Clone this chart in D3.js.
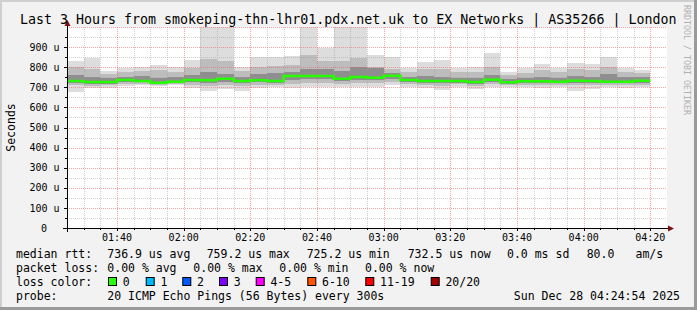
<!DOCTYPE html>
<html>
<head>
<meta charset="utf-8">
<script src="https://cdn.jsdelivr.net/npm/d3@7"></script>
<style>
  html, body { margin: 0; padding: 0; background: #f2f2f2; }
  svg { display: block; font-family: "DejaVu Sans Mono", monospace; }
  text { white-space: pre; }
</style>
</head>
<body>
<svg id="chart" width="697" height="310"></svg>
<script>
// ── Data (microseconds, one 5-minute step each, 01:25 → 04:20) ───────────────
const START = new Date("2025-12-28T01:25:00Z");
const END   = new Date("2025-12-28T04:25:00Z");

const medianUs  = [731,726,726,736,731,723,728,736,735,743,731,735,731,756,756,756,743,751,
                   748,758,736,731,731,731,726,738,725,730,730,728,733,731,728,728,733];
const maxUs     = [832,847,783,797,802,811,802,836,1200,1200,802,852,852,856,1200,895,1200,1200,
                   861,849,797,824,836,797,802,872,778,797,816,797,822,814,853,797,786];
const upperMid  = [800,790,765,775,780,785,778,795,840,830,780,800,805,810,860,830,830,845,
                   800,790,775,790,790,775,775,800,760,770,785,775,790,785,800,778,770];
const upperCore = [760,752,745,752,755,748,750,760,775,768,752,765,770,775,790,790,780,800,
                   795,770,750,755,752,748,745,760,742,748,752,748,755,752,765,752,750];
const lowerCore = [722,718,718,726,724,716,720,726,722,728,720,724,722,735,740,740,730,738,
                   738,742,726,722,720,722,716,728,716,720,720,720,722,720,720,720,722];
const lowerMid  = [712,708,710,716,716,710,714,712,705,712,708,712,712,718,722,722,716,720,
                   722,728,716,712,708,714,706,716,710,712,710,712,710,710,710,712,712];
const minUs     = [678,695,695,706,710,706,710,698,683,690,683,695,703,695,703,700,703,700,
                   700,710,703,695,687,703,690,700,700,703,695,700,683,690,700,695,700];

const lossLabels = ["0", "1", "2", "3", "4-5", "6-10", "11-19", "20/20"];
const lossColors = ["#26ff00", "#00b8ff", "#0059ff", "#7e00ff", "#ff00ff", "#ff5500", "#ff0000", "#a10000"];
const lossBoxX   = [108, 145.7, 182.3, 219, 255.7, 307.3, 365.3, 430.7];

const yLabels = [0, 100, 200, 300, 400, 500, 600, 700, 800, 900];

// ── Layout ───────────────────────────────────────────────────────────────────
const W = 697, H = 310;
const PL = 67, PR = 667, PT = 27, PB = 228;
const ARROW = "#7a1010";

const svg = d3.select("#chart");

const x = d3.scaleUtc().domain([START, END]).range([PL, PR]);
const y = d3.scaleLinear().domain([0, 1000]).range([PB, PT]);
const steps = d3.utcMinute.every(5).range(START, END).slice(0, medianUs.length);
const stepEnd = t => d3.utcMinute.offset(t, 5);

// frame
svg.append("rect").attr("width", W).attr("height", H).attr("fill", "#f2f2f2");
svg.append("path").attr("d", `M1,${H} V1 H${W}`).attr("fill", "none")
  .attr("stroke", "#cfcfcf").attr("stroke-width", 2);
svg.append("path").attr("d", `M0,${H - 1.5} H${W - 1.5} V0`).attr("fill", "none")
  .attr("stroke", "#9a9a9a").attr("stroke-width", 3);

// plot canvas
svg.append("rect").attr("x", PL).attr("y", PT)
  .attr("width", PR - PL).attr("height", PB - PT).attr("fill", "#fff");

svg.append("clipPath").attr("id", "plotclip")
  .append("rect").attr("x", PL).attr("y", PT).attr("width", PR - PL).attr("height", PB - PT);

// ── Smoke ────────────────────────────────────────────────────────────────────
const g = svg.append("g").attr("clip-path", "url(#plotclip)");

const layers = [
  { hi: maxUs,     lo: minUs,     fill: "#dddddd" },
  { hi: upperMid,  lo: lowerMid,  fill: "#bdbdbd" },
  { hi: upperCore, lo: lowerCore, fill: "#8e8e8e" }
];
layers.forEach(L => {
  g.append("g").selectAll("rect").data(steps).join("rect")
    .attr("x", d => x(d))
    .attr("width", d => x(stepEnd(d)) - x(d))
    .attr("y", (d, i) => y(L.hi[i]))
    .attr("height", (d, i) => y(L.lo[i]) - y(L.hi[i]))
    .attr("fill", L.fill)
    .attr("shape-rendering", "crispEdges");
});

// ── Grid (drawn over the smoke, like rrdtool) ────────────────────────────────
const grid = svg.append("g").attr("fill", "none").attr("stroke-dasharray", "1,1");
d3.range(50, 1001, 50).forEach(v => {
  grid.append("line")
    .attr("x1", PL).attr("x2", PR)
    .attr("y1", Math.round(y(v)) + 0.5).attr("y2", Math.round(y(v)) + 0.5)
    .attr("stroke", v % 100 === 0 ? "rgba(240,90,90,0.55)" : "rgba(150,150,150,0.45)");
});
d3.utcMinute.every(5).range(d3.utcMinute.offset(START, 5), END).forEach(t => {
  const major = t.getUTCMinutes() % 20 === 0;
  grid.append("line")
    .attr("x1", Math.round(x(t)) + 0.5).attr("x2", Math.round(x(t)) + 0.5)
    .attr("y1", PT).attr("y2", PB)
    .attr("stroke", major ? "rgba(240,90,90,0.55)" : "rgba(150,150,150,0.45)");
});

// ── Median line ──────────────────────────────────────────────────────────────
const medPts = steps.map((t, i) => [x(t), y(medianUs[i])]);
medPts.push([x(stepEnd(steps[steps.length - 1])), y(medianUs[medianUs.length - 1])]);
svg.append("path")
  .attr("d", d3.line().curve(d3.curveStepAfter)(medPts))
  .attr("fill", "none")
  .attr("stroke", lossColors[0])
  .attr("stroke-width", 2.5);

// ── Axes ─────────────────────────────────────────────────────────────────────
const ax = svg.append("g");
ax.append("line").attr("x1", PL - 4).attr("x2", PR + 1).attr("y1", PB + 0.5).attr("y2", PB + 0.5)
  .attr("stroke", "#000");
ax.append("line").attr("x1", PL + 0.5).attr("x2", PL + 0.5).attr("y1", PB + 4).attr("y2", PT - 2)
  .attr("stroke", "#000");
ax.append("path").attr("d", `M${PR + 1},${PB - 2.5} L${PR + 7},${PB + 0.5} L${PR + 1},${PB + 3.5} Z`)
  .attr("fill", ARROW);
ax.append("path").attr("d", `M${PL - 2.5},${PT - 1} L${PL + 0.5},${PT - 7} L${PL + 3.5},${PT - 1} Z`)
  .attr("fill", ARROW);

// x ticks + labels
d3.utcMinute.every(5).range(d3.utcMinute.offset(START, 5), END).forEach(t => {
  const major = t.getUTCMinutes() % 20 === 0;
  ax.append("line")
    .attr("x1", Math.round(x(t)) + 0.5).attr("x2", Math.round(x(t)) + 0.5)
    .attr("y1", PB).attr("y2", PB + (major ? 3 : 2))
    .attr("stroke", "#000");
});
ax.selectAll("text.xl").data(x.ticks(d3.utcMinute.every(20))).join("text")
  .attr("x", d => x(d))
  .attr("y", 240.5)
  .attr("text-anchor", "middle")
  .style("font-size", "10px")
  .text(d3.utcFormat("%H:%M"));

// y ticks + labels
d3.range(50, 1000, 50).forEach(v => {
  ax.append("line").attr("x1", PL - (v % 100 === 0 ? 3 : 2)).attr("x2", PL)
    .attr("y1", Math.round(y(v)) + 0.5).attr("y2", Math.round(y(v)) + 0.5)
    .attr("stroke", "#000");
});
ax.selectAll("text.yl").data(yLabels).join("text")
  .attr("x", d => d === 0 ? 47 : 59.5)
  .attr("y", d => y(d) + 3.6)
  .attr("text-anchor", "end")
  .style("font-size", "10px")
  .text(d => d === 0 ? "0" : `${d} u`);

svg.append("text")
  .attr("transform", `translate(14.5,${(PT + PB) / 2}) rotate(-90)`)
  .attr("text-anchor", "middle")
  .style("font-size", "11.5px")
  .text("Seconds");

// title + watermark
svg.append("text").attr("x", 20).attr("y", 24)
  .style("font-size", "13.3px")
  .text("Last 3 Hours from smokeping-thn-lhr01.pdx.net.uk to EX Networks | AS35266 | London");

svg.append("text")
  .attr("transform", "translate(684,5) rotate(90)")
  .style("font-size", "8.3px")
  .attr("fill", "#b0b0b0")
  .text("RRDTOOL / TOBI OETIKER");

// ── Legend ───────────────────────────────────────────────────────────────────
const legend = svg.append("g").style("font-size", "11.5px");
const legendText = [
  [16, 257.5, "median rtt:"], [107.3, 257.5, "736.9 us avg"], [206.7, 257.5, "759.2 us max"],
  [306.7, 257.5, "725.2 us min"], [407.7, 257.5, "732.5 us now"], [507, 257.5, "0.0 ms sd"],
  [586.7, 257.5, "80.0"], [635.5, 257.5, "am/s"],
  [16, 271.5, "packet loss:"], [107.3, 271.5, "0.00 % avg"], [193.3, 271.5, "0.00 % max"],
  [279.3, 271.5, "0.00 % min"], [365, 271.5, "0.00 % now"],
  [16, 285.5, "loss color:"],
  [16, 299.5, "probe:"], [107.3, 299.5, "20 ICMP Echo Pings (56 Bytes) every 300s"]
];
legend.selectAll("text.lg").data(legendText).join("text")
  .attr("x", d => d[0]).attr("y", d => d[1]).text(d => d[2]);

legend.append("text").attr("x", 680).attr("y", 299.5).attr("text-anchor", "end")
  .text("Sun Dec 28 04:24:54 2025");

lossLabels.forEach((lab, i) => {
  legend.append("rect")
    .attr("x", lossBoxX[i] + 0.5).attr("y", 277.5)
    .attr("width", 8).attr("height", 8)
    .attr("fill", lossColors[i]).attr("stroke", "#000");
  legend.append("text").attr("x", lossBoxX[i] + 14.7).attr("y", 285.5).text(lab);
});
</script>
</body>
</html>
